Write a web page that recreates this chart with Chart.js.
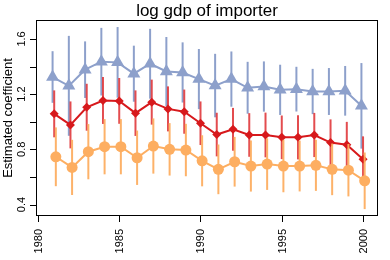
<!DOCTYPE html>
<html>
<head>
<meta charset="utf-8">
<script src="https://cdn.jsdelivr.net/npm/chart.js@4.4.1/dist/chart.umd.min.js"></script>
<style>
  body { margin: 0; background: #fff; }
</style>
</head>
<body>
<canvas id="coefChart" width="390" height="260"></canvas>
<script>
// data
const years = [1981, 1982, 1983, 1984, 1985, 1986, 1987, 1988, 1989, 1990,
               1991, 1992, 1993, 1994, 1995, 1996, 1997, 1998, 1999, 2000];

const blueCoef = [1.324, 1.26, 1.377, 1.435, 1.43, 1.348, 1.42, 1.364, 1.357, 1.309,
                  1.262, 1.309, 1.246, 1.255, 1.231, 1.236, 1.219, 1.219, 1.224, 1.115];
const blueErr = [0.187, 0.362, 0.205, 0.245, 0.256, 0.203, 0.253, 0.25, 0.218, 0.218,
                 0.23, 0.2, 0.188, 0.182, 0.182, 0.162, 0.164, 0.17, 0.18, 0.31];

const redCoef = [1.057, 0.977, 1.105, 1.154, 1.151, 1.062, 1.142, 1.093, 1.073, 0.989,
                 0.907, 0.945, 0.904, 0.904, 0.887, 0.887, 0.904, 0.849, 0.833, 0.728];
const redErr = [0.17, 0.17, 0.17, 0.17, 0.166, 0.165, 0.163, 0.163, 0.16, 0.158,
                0.158, 0.155, 0.158, 0.162, 0.158, 0.16, 0.16, 0.168, 0.166, 0.166];

const orangeCoef = [0.746, 0.669, 0.783, 0.819, 0.819, 0.739, 0.824, 0.8, 0.795, 0.717,
                    0.655, 0.71, 0.679, 0.693, 0.679, 0.679, 0.684, 0.655, 0.649, 0.572];
const orangeErr = [0.213, 0.2, 0.2, 0.2, 0.2, 0.197, 0.2, 0.19, 0.19, 0.185,
                   0.18, 0.18, 0.185, 0.187, 0.19, 0.184, 0.185, 0.187, 0.19, 0.205];

const xTicks = [1980, 1985, 1990, 1995, 2000];
const yTicks = [0.4, 0.6, 0.8, 1.0, 1.2, 1.4, 1.6];
const yLabels = [0.4, 0.8, 1.2, 1.6];

const FONT = '"Liberation Sans", Arial, sans-serif';

// small horizontal dodge so the three series don't sit on top of each other
function pts(coef, shift) {
  return years.map((yr, i) => ({ x: yr + shift, y: coef[i] }));
}

const errorBars = {
  id: 'errorBars',
  beforeDatasetDraw(chart, args) {
    const ds = chart.data.datasets[args.index];
    const ctx = chart.ctx;
    const ys = chart.scales.y;
    ctx.save();
    ctx.strokeStyle = ds.barColor;
    ctx.lineWidth = 2;
    args.meta.data.forEach((el, i) => {
      const v = ds.data[i].y;
      const e = ds.err[i];
      ctx.beginPath();
      ctx.moveTo(el.x, ys.getPixelForValue(v + e));
      ctx.lineTo(el.x, ys.getPixelForValue(v - e));
      ctx.stroke();
    });
    ctx.restore();
  }
};

const axesBox = {
  id: 'axesBox',
  afterDraw(chart) {
    const ctx = chart.ctx;
    const a = chart.chartArea;
    const xs = chart.scales.x, ys = chart.scales.y;
    ctx.save();
    ctx.strokeStyle = '#000';
    ctx.lineWidth = 1;
    ctx.strokeRect(Math.round(a.left) + 0.5, Math.round(a.top) + 0.5,
                   Math.round(a.right - a.left) - 1, Math.round(a.bottom - a.top) - 1);

    ctx.fillStyle = '#000';
    ctx.font = '11px ' + FONT;

    // x axis
    xTicks.forEach(t => {
      const px = Math.round(xs.getPixelForValue(t)) + 0.5;
      ctx.beginPath();
      ctx.moveTo(px, a.bottom);
      ctx.lineTo(px, a.bottom + 6);
      ctx.stroke();
      ctx.save();
      ctx.translate(px, a.bottom + 13);
      ctx.rotate(-Math.PI / 2);
      ctx.textAlign = 'right';
      ctx.textBaseline = 'middle';
      ctx.fillText(String(t), 0, 0);
      ctx.restore();
    });

    // y axis
    yTicks.forEach(t => {
      const py = Math.round(ys.getPixelForValue(t)) + 0.5;
      ctx.beginPath();
      ctx.moveTo(a.left - 6, py);
      ctx.lineTo(a.left, py);
      ctx.stroke();
    });
    yLabels.forEach(t => {
      const py = ys.getPixelForValue(t);
      ctx.save();
      ctx.translate(a.left - 11, py);
      ctx.rotate(-Math.PI / 2);
      ctx.textAlign = 'center';
      ctx.textBaseline = 'alphabetic';
      ctx.fillText(t.toFixed(1), 0, 0);
      ctx.restore();
    });

    ctx.save();
    ctx.font = '13px ' + FONT;
    ctx.translate(12, (a.top + a.bottom) / 2);
    ctx.rotate(-Math.PI / 2);
    ctx.textAlign = 'center';
    ctx.fillText('Estimated coefficient', 0, 0);
    ctx.restore();

    ctx.font = '17px ' + FONT;
    ctx.textAlign = 'center';
    ctx.fillText('log gdp of importer', (a.left + a.right) / 2, 16);
    ctx.restore();
  }
};

new Chart(document.getElementById('coefChart'), {
  type: 'line',
  data: {
    datasets: [
      {
        data: pts(orangeCoef, 0.1),
        err: orangeErr,
        barColor: 'rgba(253,174,97,0.95)',
        borderColor: '#FDAE61',
        backgroundColor: '#FDAE61',
        borderWidth: 2,
        pointStyle: 'circle',
        pointRadius: 5.5,
        pointBorderWidth: 0
      },
      {
        data: pts(redCoef, 0),
        err: redErr,
        barColor: 'rgba(222,45,48,0.85)',
        borderColor: '#D7191C',
        backgroundColor: '#D7191C',
        borderWidth: 2,
        pointStyle: 'rectRot',
        pointRadius: 4.5,
        pointBorderWidth: 0
      },
      {
        data: pts(blueCoef, -0.1),
        err: blueErr,
        barColor: '#8DA0CB',
        borderColor: '#8DA0CB',
        backgroundColor: '#8DA0CB',
        borderWidth: 2,
        pointStyle: 'triangle',
        pointRadius: 7.5,
        pointBorderWidth: 0
      }
    ]
  },
  options: {
    responsive: false,
    animation: false,
    devicePixelRatio: 1,
    layout: { padding: { left: 36, right: 12, top: 20, bottom: 44 } },
    plugins: { legend: { display: false }, tooltip: { enabled: false } },
    elements: { line: { tension: 0 } },
    scales: {
      x: { type: 'linear', min: 1979.88, max: 2000.92, display: false },
      y: { min: 0.317, max: 1.737, display: false }
    }
  },
  plugins: [errorBars, axesBox]
});
</script>
</body>
</html>
